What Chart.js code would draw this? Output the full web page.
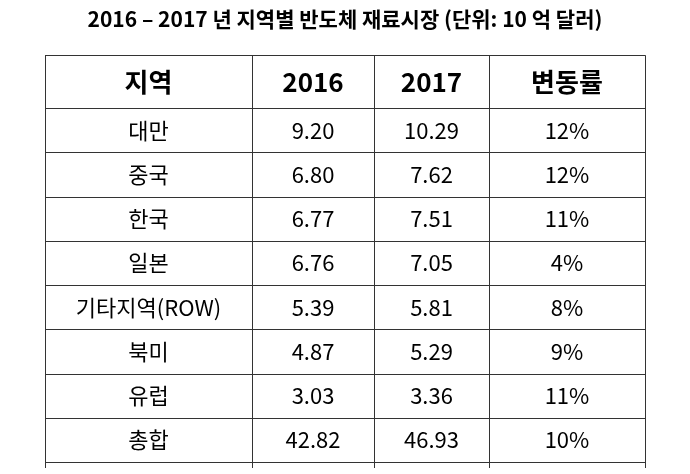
<!DOCTYPE html>
<html>
<head>
<meta charset="utf-8">
<script src="https://cdn.jsdelivr.net/npm/chart.js@4"></script>
<style>
  html, body { margin: 0; padding: 0; background: #fff; }
  #wrap { width: 690px; height: 474px; }
</style>
</head>
<body>
<div id="wrap"><canvas id="tbl"></canvas></div>
<script>
// Table data
const headers = ['지역', '2016', '2017', '변동률'];
const regions = ['대만', '중국', '한국', '일본', '기타지역(ROW)', '북미', '유럽', '총합'];
const values2016 = ['9.20', '6.80', '6.77', '6.76', '5.39', '4.87', '3.03', '42.82'];
const values2017 = ['10.29', '7.62', '7.51', '7.05', '5.81', '5.29', '3.36', '46.93'];
const changes = ['12%', '12%', '11%', '4%', '8%', '9%', '11%', '10%'];

// Layout in scale units (column widths, header row height)
const colEdges = [0, 207, 329, 444, 600];
const headerH = 1.2;
const rowEdges = [0, headerH];
regions.forEach((r, i) => rowEdges.push(headerH + i + 1));

const font = '"Noto Sans CJK KR", "Noto Sans", sans-serif';

const tablePlugin = {
    id: 'tablePlugin',
    afterDraw(chart) {
        const { ctx, scales: { x, y } } = chart;
        ctx.save();
        ctx.strokeStyle = '#333';
        ctx.lineWidth = 1;
        const left = x.getPixelForValue(colEdges[0]);
        const right = x.getPixelForValue(colEdges[colEdges.length - 1]);
        const top = y.getPixelForValue(rowEdges[0]);
        const bottom = y.getPixelForValue(rowEdges[rowEdges.length - 1]);
        rowEdges.forEach(r => {
            const py = Math.round(y.getPixelForValue(r)) + 0.5;
            ctx.beginPath(); ctx.moveTo(left, py); ctx.lineTo(right, py); ctx.stroke();
        });
        colEdges.forEach(c => {
            const px = Math.round(x.getPixelForValue(c)) + 0.5;
            ctx.beginPath(); ctx.moveTo(px, top); ctx.lineTo(px, bottom + 6); ctx.stroke();
        });

        ctx.fillStyle = '#000';
        ctx.textAlign = 'center';
        ctx.textBaseline = 'middle';
        const cols = [regions, values2016, values2017, changes];
        headers.forEach((h, c) => {
            const cx = x.getPixelForValue((colEdges[c] + colEdges[c + 1]) / 2);
            const cy = y.getPixelForValue(headerH / 2);
            ctx.font = 'bold 26px ' + font;
            ctx.fillText(h, cx, cy);
            ctx.font = '22px ' + font;
            cols[c].forEach((v, i) => {
                const ry = y.getPixelForValue((rowEdges[i + 1] + rowEdges[i + 2]) / 2);
                ctx.fillText(v, cx, ry);
            });
        });
        ctx.restore();
    }
};

new Chart(document.getElementById('tbl'), {
    type: 'scatter',
    data: { datasets: [{ data: [] }] },
    options: {
        responsive: true,
        maintainAspectRatio: false,
        animation: false,
        layout: { padding: { left: 45, right: 45, top: 0, bottom: 12 } },
        plugins: {
            legend: { display: false },
            tooltip: { enabled: false },
            title: {
                display: true,
                text: '2016 – 2017 년 지역별 반도체 재료시장 (단위: 10 억 달러)',
                color: '#000',
                font: { family: font, size: 21, weight: 'bold' },
                padding: { top: 6, bottom: 24 }
            }
        },
        scales: {
            x: { type: 'linear', display: false, min: colEdges[0], max: colEdges[colEdges.length - 1] },
            y: { type: 'linear', display: false, reverse: true, min: 0, max: rowEdges[rowEdges.length - 1] }
        }
    },
    plugins: [tablePlugin]
});
</script>
</body>
</html>
